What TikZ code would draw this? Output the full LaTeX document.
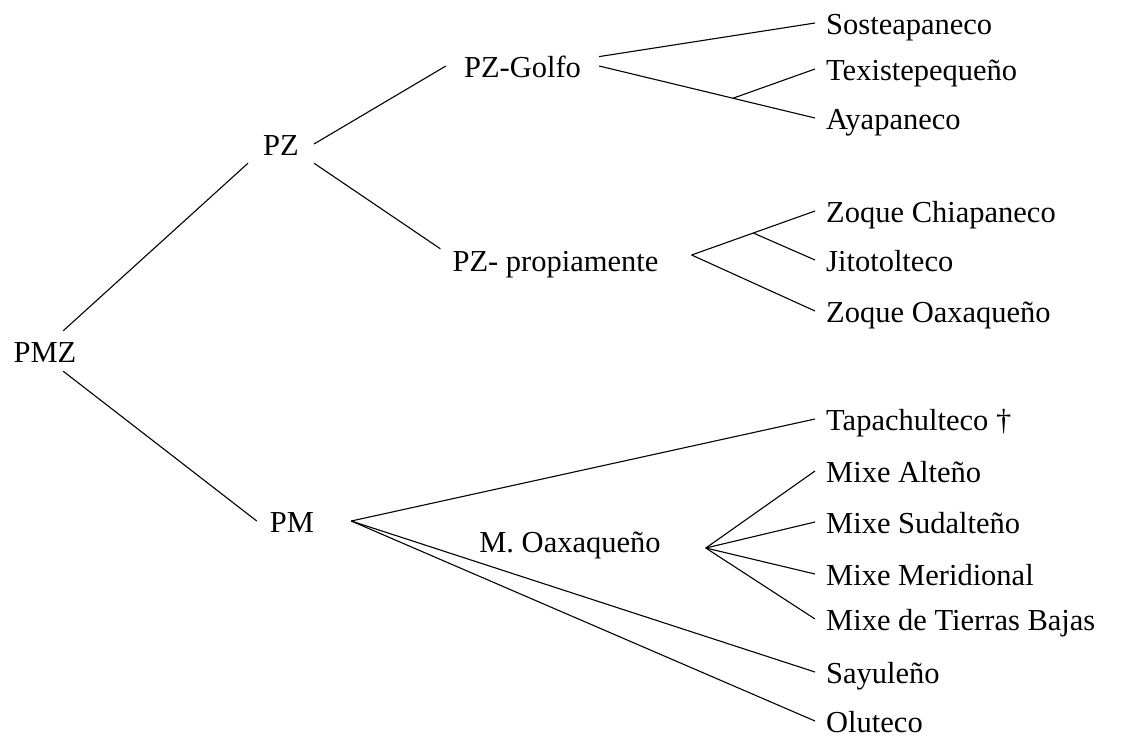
\documentclass[tikz,border=0pt]{standalone}
\usepackage{fontspec}
\setmainfont{Liberation Serif}
\usepackage{tikz}
\usetikzlibrary{positioning}
\tikzset{
    %Define style for language names
    langnode/.style={
             font=\fontsize{30.5}{36}\selectfont,
             text height=22pt, text depth=0pt,
             inner xsep=0pt, inner ysep=0pt},
    %Define style for the leaves
    leafnode/.style={
             langnode,
             anchor=west,
             inner xsep=11pt},
    % Define branch style
    branch/.style={
            -,
            line width=1.1pt}
}
\begin{document}
\begin{tikzpicture}[x=1pt, y=-1pt]
 \useasboundingbox (0,0) rectangle (1123,737);
 \node[langnode, inner ysep=9pt] (pmz) at (45,351) {PMZ};
 \node[langnode, inner xsep=15pt, inner ysep=8pt] (pz) at (281,144) {PZ};
 \node[langnode, inner xsep=13pt] (pm) at (292,521) {PM};
 \node[langnode, inner xsep=18pt] (golfo) at (522.5,66) {PZ-Golfo};
 \node[langnode, inner xsep=12pt] (propia) at (555.5,260) {PZ- propiamente};
 \node[langnode] (moax) at (570,541) {M. Oaxaqueño};
 \node[leafnode] (sost) at (815,23) {Sosteapaneco};
 \node[leafnode] (texi) at (815,69) {Texistepequeño};
 \node[leafnode] (ayap) at (815,118) {Ayapaneco};
 \node[leafnode] (zchia) at (815,211) {Zoque Chiapaneco};
 \node[leafnode] (jito) at (815,260) {Jitotolteco};
 \node[leafnode] (zoax) at (815,311) {Zoque Oaxaqueño};
 \node[leafnode] (tapa) at (815,419) {Tapachulteco †};
 \node[leafnode] (malt) at (815,471) {Mixe Alteño};
 \node[leafnode] (msud) at (815,522) {Mixe Sudalteño};
 \node[leafnode] (mmer) at (815,574) {Mixe Meridional};
 \node[leafnode] (mtb) at (815,619) {Mixe de Tierras Bajas};
 \node[leafnode] (sayu) at (815,672) {Sayuleño};
 \node[leafnode] (olut) at (815,721) {Oluteco};
 \coordinate[above right=5pt and 21pt of propia.east] (propfork);
 \coordinate[right=24pt of pm.east] (pmfork);
 \coordinate[below right=7pt and 45pt of moax.east] (mofork);
 \path (golfo.east) -- (ayap.west) coordinate[pos=0.62] (golfojoin);
 \path (propfork) -- (zchia.west) coordinate[pos=0.5] (propjoin);
 \path (pmz.48) edge[branch] (pz.south west)
       (pmz.-48) edge[branch] (pm.west)
       (pz.east) edge[branch] (golfo.west)
       (pz.south east) edge[branch] (propia.north west)
       (golfo.7) edge[branch] (sost.west)
       (golfo.east) edge[branch] (ayap.west)
       (golfojoin) edge[branch] (texi.west)
       (propfork) edge[branch] (zchia.west)
       (propjoin) edge[branch] (jito.west)
       (propfork) edge[branch] (zoax.west)
       (pmfork) edge[branch] (tapa.west)
       (pmfork) edge[branch] (sayu.west)
       (pmfork) edge[branch] (olut.west)
       (mofork) edge[branch] (malt.west)
       (mofork) edge[branch] (msud.west)
       (mofork) edge[branch] (mmer.west)
       (mofork) edge[branch] (mtb.west);
\end{tikzpicture}
\end{document}
